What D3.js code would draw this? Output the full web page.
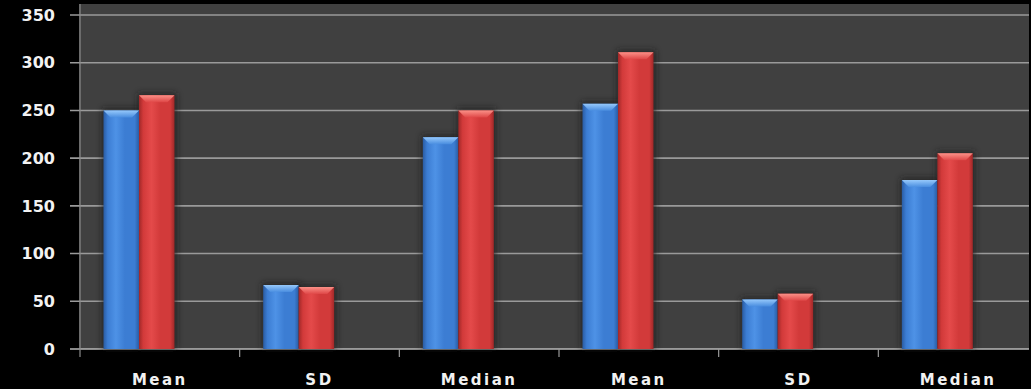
<!DOCTYPE html>
<html>
<head>
<meta charset="utf-8">
<script src="https://cdn.jsdelivr.net/npm/d3@7"></script>
<style>
  html, body { margin: 0; padding: 0; background: #000; }
  svg { display: block; }
  text { font-family: "DejaVu Sans", Verdana, sans-serif; font-weight: bold; fill: #f2f2f2; }
</style>
</head>
<body>
<svg id="chart" width="1031" height="389"></svg>
<script>
// Statistic groups along the category axis
const categories = ["Mean", "SD", "Median", "Mean", "SD", "Median"];
// Two series per group
const seriesBlue = [250, 67, 222, 257, 52, 177];
const seriesRed  = [266, 65, 250, 311, 58, 205];
const yTicks = [0, 50, 100, 150, 200, 250, 300, 350];

const svg = d3.select("#chart");
const W = 1031, H = 389;
const plot = { left: 80, right: 1029, top: 4, bottom: 349 };

svg.append("rect").attr("width", W).attr("height", H).attr("fill", "#000");

const idx = d3.range(categories.length);
const x = d3.scaleBand().domain(idx).range([plot.left, 1038]).padding(0);
const y = d3.scaleLinear().domain([0, 350]).range([plot.bottom, 15]);
const inner = d3.scaleBand().domain(["blue", "red"]).range([23.5, 94.5]).padding(0);

const defs = svg.append("defs");
function barGradient(id, edge, mid, light) {
  const g = defs.append("linearGradient").attr("id", id)
    .attr("x1", "0%").attr("x2", "100%").attr("y1", "0%").attr("y2", "0%");
  [[0, edge], [0.12, mid], [0.35, light], [0.6, mid], [0.88, mid], [1, edge]]
    .forEach(([o, c]) => g.append("stop").attr("offset", o).attr("stop-color", c));
}
barGradient("gBlue", "#2a5ca3", "#3c7dd3", "#4e92e6");
barGradient("gRed", "#a02828", "#d23a3a", "#e44a4a");

function capGradient(id, base, light) {
  const g = defs.append("linearGradient").attr("id", id)
    .attr("x1", "0%").attr("x2", "0%").attr("y1", "0%").attr("y2", "100%");
  g.append("stop").attr("offset", 0).attr("stop-color", light);
  g.append("stop").attr("offset", 1).attr("stop-color", base);
}
capGradient("cBlue", "#4a8ee0", "#9fd0ff");
capGradient("cRed", "#e04848", "#ff9a90");

const shadow = defs.append("filter").attr("id", "halo")
  .attr("x", "-40%").attr("y", "-20%").attr("width", "180%").attr("height", "140%");
shadow.append("feGaussianBlur").attr("stdDeviation", 3);

// plot background
svg.append("rect")
  .attr("x", plot.left - 1).attr("y", plot.top)
  .attr("width", plot.right - plot.left + 1).attr("height", plot.bottom - plot.top)
  .attr("fill", "#404040");

// horizontal gridlines with value labels
const gy = svg.append("g").attr("transform", `translate(${plot.left},0)`);
yTicks.forEach(v => {
  gy.append("line")
    .attr("x1", -10).attr("x2", plot.right - plot.left)
    .attr("y1", y(v)).attr("y2", y(v))
    .attr("stroke", v === 0 ? "#b8b8b8" : "#9a9a9a").attr("stroke-width", 1.6);
  gy.append("text")
    .attr("x", -25).attr("y", y(v)).attr("dy", "0.36em")
    .attr("text-anchor", "end").attr("font-size", 16)
    .text(v);
});
gy.append("line").attr("x1", 0).attr("x2", 0).attr("y1", plot.top).attr("y2", plot.bottom + 8)
  .attr("stroke", "#8a8a8a").attr("stroke-width", 1.2);

// category ticks and labels
const gx = svg.append("g");
idx.forEach(i => {
  if (i > 0) {
    gx.append("line").attr("x1", x(i)).attr("x2", x(i))
      .attr("y1", plot.bottom).attr("y2", plot.bottom + 8)
      .attr("stroke", "#9a9a9a").attr("stroke-width", 1.2);
  }
  gx.append("text")
    .attr("x", x(i) + x.bandwidth() / 2).attr("y", 385)
    .attr("text-anchor", "middle").attr("font-size", 15).attr("letter-spacing", 2.5)
    .text(categories[i]);
});

// bars
const rows = idx.flatMap(i => [
  { i, key: "blue", v: seriesBlue[i] },
  { i, key: "red", v: seriesRed[i] }
]);
const gb = svg.append("g");
const bw = inner.bandwidth();
// soft dark halo behind each bar
gb.selectAll("rect.halo").data(rows).join("rect").attr("class", "halo")
  .attr("x", d => x(d.i) + inner(d.key) - 1)
  .attr("y", d => y(d.v) - 2)
  .attr("width", bw + 3)
  .attr("height", d => plot.bottom - y(d.v) + 2)
  .attr("fill", "#1a1a1a").attr("opacity", 0.75)
  .attr("filter", "url(#halo)");
gb.selectAll("rect.bar").data(rows).join("rect").attr("class", "bar")
  .attr("x", d => x(d.i) + inner(d.key))
  .attr("y", d => y(d.v))
  .attr("width", bw)
  .attr("height", d => plot.bottom - y(d.v))
  .attr("fill", d => d.key === "blue" ? "url(#gBlue)" : "url(#gRed)");
// bevelled top caps
gb.selectAll("path.cap").data(rows).join("path").attr("class", "cap")
  .attr("d", d => {
    const x0 = x(d.i) + inner(d.key), y0 = y(d.v), h = 7;
    return `M${x0},${y0} L${x0 + bw},${y0} L${x0 + bw - 7},${y0 + h} L${x0 + 7},${y0 + h} Z`;
  })
  .attr("fill", d => d.key === "blue" ? "url(#cBlue)" : "url(#cRed)")
  .attr("opacity", 0.9);
</script>
</body>
</html>
